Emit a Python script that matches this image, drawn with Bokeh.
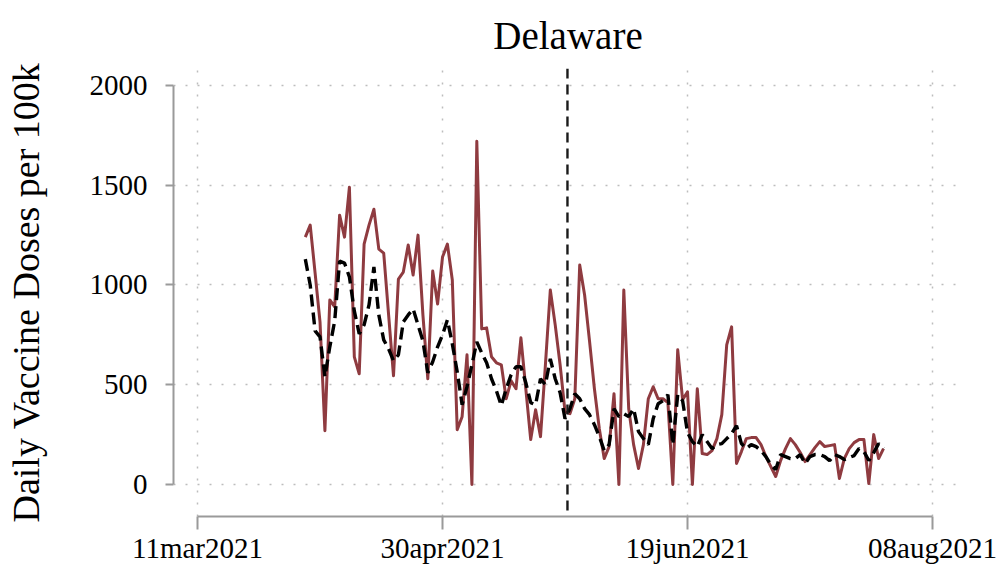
import pandas as pd
from bokeh.plotting import figure
from bokeh.models import Range1d, FixedTicker, Span
from bokeh.embed import file_html
from bokeh.resources import INLINE

title_text = "Delaware"
y_label = "Daily Vaccine Doses per 100k"
x_tick_dates = ["2021-03-11", "2021-04-30", "2021-06-19", "2021-08-08"]
x_tick_labels = ["11mar2021", "30apr2021", "19jun2021", "08aug2021"]
y_ticks = [0, 500, 1000, 1500, 2000]
first_date = "2021-04-02"
event_date = "2021-05-25 12:00"

actual = [
    1240, 1300, 1060, 815, 270, 925, 890, 1350, 1240, 1490,
    640, 555, 1205, 1300, 1380, 1180, 1160, 850, 545, 1030,
    1065, 1200, 1050, 1250, 850, 530, 1070, 905, 1140, 1205,
    1025, 275, 340, 650, 0, 1720, 780, 785, 640, 610,
    600, 430, 520, 480, 735, 480, 225, 375, 240, 600,
    975, 800, 600, 365, 355, 430, 1100, 950, 720, 480,
    280, 130, 190, 455, 0, 975, 380, 200, 80, 200,
    430, 490, 430, 430, 410, 0, 675, 425, 465, 0,
    480, 155, 150, 170, 230, 350, 700, 790, 105, 165,
    230, 235, 235, 200, 140, 90, 40, 120, 180, 230,
    200, 160, 115, 150, 185, 215, 190, 195, 200, 30,
    130, 180, 210, 225, 225, 5, 250, 130, 180,
]

counterfactual = [
    1130, 1000, 770, 740, 540, 690, 820, 1120, 1110, 1040,
    870, 755, 800, 900, 1090, 850, 725, 680, 620, 650,
    815, 850, 880, 800, 720, 560, 615, 690, 750, 825,
    705, 565, 400, 490, 600, 715, 660, 610, 530, 470,
    395, 480, 550, 590, 590, 510, 410, 400, 530, 500,
    630, 530, 460, 330, 380, 455, 430, 380, 350, 300,
    240, 170, 200, 380, 340, 355, 340, 380, 265, 230,
    200, 330, 405, 420, 450, 200, 450, 420, 260, 215,
    190, 250, 215, 180, 200, 205, 230, 255, 295, 205,
    180, 200, 190, 170, 140, 100, 75, 150, 140, 130,
    130, 150, 105, 140, 150, 150, 140, 120, 150, 140,
    125, 135, 145, 180, 165, 120, 160, 205, 180,
]

origin = pd.Timestamp("1960-01-01")


def stata_day(ts):
    return (pd.Timestamp(ts) - origin) / pd.Timedelta(days=1)


dates = pd.date_range(first_date, periods=len(actual), freq="D")
x = [stata_day(d) for d in dates]
x_ticks = [stata_day(d) for d in x_tick_dates]
event_x = stata_day(event_date)

SERIF = "Liberation Serif"
RED = "#8f3b40"
AXIS_GRAY = "#9a9a9a"

p = figure(
    width=1000, height=567,
    output_backend="svg", toolbar_location=None,
    x_range=Range1d(x_ticks[0] - 4.9, x_ticks[-1] + 6.12),
    y_range=Range1d(-160.4, 2085.2),
    min_border_left=173, min_border_right=38,
    min_border_top=68, min_border_bottom=51,
)
p.outline_line_color = None
p.background_fill_color = "white"
p.border_fill_color = "white"

p.title.text = title_text
p.title.align = "center"
p.title.vertical_align = "top"
p.title.text_font = SERIF
p.title.text_font_size = "39px"
p.title.text_font_style = "normal"
p.title.text_color = "black"
p.title.standoff = 19

# grids
p.xgrid.ticker = FixedTicker(ticks=x_ticks)
p.ygrid.ticker = FixedTicker(ticks=y_ticks)
for g in (p.xgrid, p.ygrid):
    g.grid_line_color = "#bdbdbd"
    g.grid_line_dash = "2 10"
    g.grid_line_width = 1.5

# x axis
xa = p.xaxis[0]
xa.ticker = FixedTicker(ticks=x_ticks)
xa.major_label_overrides = {t: lab for t, lab in zip(x_ticks, x_tick_labels)}
xa.bounds = (x_ticks[0], x_ticks[-1])
xa.axis_line_color = AXIS_GRAY
xa.axis_line_width = 2
xa.major_tick_line_color = AXIS_GRAY
xa.major_tick_line_width = 2
xa.major_tick_in = 0
xa.major_tick_out = 13
xa.minor_tick_line_color = None
xa.major_label_standoff = 2
xa.major_label_text_font = SERIF
xa.major_label_text_font_size = "29px"
xa.major_label_text_color = "black"

# y axis
ya = p.yaxis[0]
ya.ticker = FixedTicker(ticks=y_ticks)
ya.bounds = (y_ticks[0], y_ticks[-1])
ya.axis_label = y_label
ya.axis_label_text_font = SERIF
ya.axis_label_text_font_size = "38px"
ya.axis_label_text_font_style = "normal"
ya.axis_label_text_color = "black"
ya.axis_label_standoff = 40
ya.axis_line_color = AXIS_GRAY
ya.axis_line_width = 2
ya.major_tick_line_color = AXIS_GRAY
ya.major_tick_line_width = 2
ya.major_tick_in = 0
ya.major_tick_out = 8
ya.minor_tick_line_color = None
ya.major_label_standoff = 18
ya.major_label_text_font = SERIF
ya.major_label_text_font_size = "29px"
ya.major_label_text_color = "black"

p.line(x, actual, line_color=RED, line_width=3, line_join="round")
p.line(x, counterfactual, line_color="black", line_width=3.4, line_dash="12 6")

p.add_layout(Span(location=event_x, dimension="height", line_color="#1a1a1a",
                  line_width=2.4, line_dash="10 6"))

open("out.html", "w").write(file_html(p, INLINE))
